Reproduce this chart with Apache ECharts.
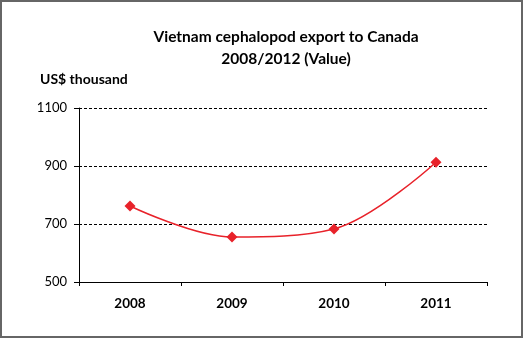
<!DOCTYPE html>
<html>
<head>
<meta charset="utf-8">
<script src="https://cdn.jsdelivr.net/npm/echarts@6/dist/echarts.min.js"></script>
<style>
html,body{margin:0;padding:0;background:#fff;}
#c{width:525px;height:338px;}
</style>
</head>
<body>
<div id="c"></div>
<script>
const titleText = "Vietnam cephalopod export to Canada\n2008/2012 (Value)";
const unitLabel = "US$ thousand";
const categories = ["2008", "2009", "2010", "2011"];
const values = [762, 655, 683, 913];
const yTicks = [500, 700, 900, 1100];

const chart = echarts.init(document.getElementById('c'), null, {renderer: 'canvas'});
const FONT = 'Lato';
chart.setOption({
  animation: false,
  backgroundColor: '#fff',
  title: {
    text: titleText,
    left: 281,
    top: 21,
    textAlign: 'center',
    textStyle: {fontFamily: FONT, fontWeight: 'bold', fontSize: 15.5, lineHeight: 22, color: '#000'}
  },
  graphic: [
    {type: 'rect', shape: {x: 1, y: 1, width: 521, height: 336}, style: {fill: 'none', stroke: '#666', lineWidth: 2}, silent: true},
    {type: 'text', left: 40, top: 72, style: {text: unitLabel, font: 'bold 14px ' + FONT, fill: '#000'}}
  ],
  grid: {left: 79, right: 38, top: 108, bottom: 56, containLabel: false},
  xAxis: {
    type: 'category',
    data: categories,
    boundaryGap: true,
    axisLine: {lineStyle: {color: '#000', width: 1}},
    axisTick: {show: true, length: 4, inside: false, lineStyle: {color: '#000'}},
    axisLabel: {fontFamily: FONT, fontWeight: 'bold', fontSize: 13.5, color: '#000', margin: 15}
  },
  yAxis: {
    type: 'value',
    min: yTicks[0],
    max: yTicks[yTicks.length - 1],
    interval: 200,
    axisLine: {show: true, lineStyle: {color: '#000', width: 1}},
    axisTick: {show: true, length: 5, lineStyle: {color: '#000'}},
    axisLabel: {fontFamily: FONT, fontSize: 13, color: '#000', margin: 12, formatter: function (v) { return String(v); }},
    splitLine: {show: true, lineStyle: {color: '#000', type: [3, 2], width: 1}}
  },
  series: [{
    type: 'line',
    data: values,
    smooth: 0.35,
    symbol: 'diamond',
    symbolSize: 11,
    itemStyle: {color: '#e8222a'},
    lineStyle: {color: '#e8222a', width: 1.5}
  }]
});
</script>
</body>
</html>
